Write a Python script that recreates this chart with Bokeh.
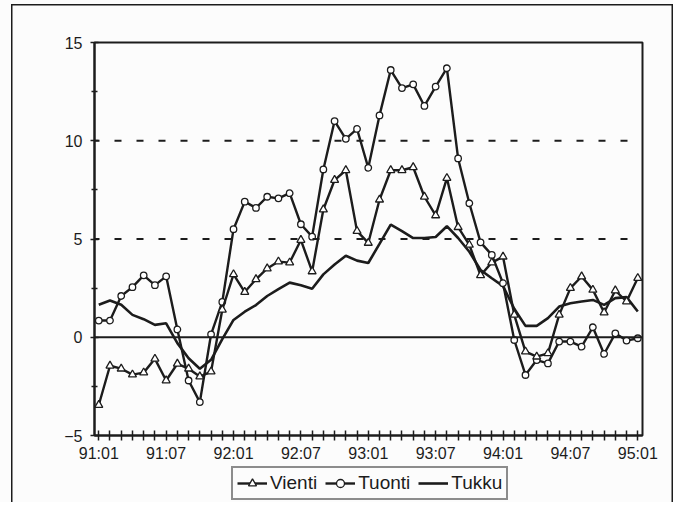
from bokeh.plotting import figure
from bokeh.layouts import column
from bokeh.models import FixedTicker, Span, Legend, LegendItem, Range1d
from bokeh.embed import file_html
from bokeh.resources import INLINE

# monthly index 0 = 91:01 ... 48 = 95:01
months = list(range(49))

vienti = [-3.45, -1.45, -1.6, -1.9, -1.8, -1.1, -2.2, -1.35, -1.6, -2.0,
          -1.75, 1.4, 3.2, 2.3, 2.95, 3.5, 3.85, 3.8, 4.95, 3.35,
          6.5, 8.0, 8.5, 5.4, 4.8, 7.0, 8.5, 8.5, 8.65, 7.15,
          6.2, 8.1, 5.6, 4.7, 3.15, 3.8, 4.1, 1.14, -0.73, -0.99,
          -0.82, 1.14, 2.5, 3.09, 2.41, 1.26, 2.38, 1.82, 3.01]

tuonti = [0.85, 0.85, 2.1, 2.55, 3.15, 2.65, 3.1, 0.4, -2.2, -3.3,
          0.15, 1.8, 5.5, 6.9, 6.58, 7.15, 7.07, 7.33, 5.75, 5.12,
          8.54, 11.0, 10.1, 10.6, 8.62, 11.29, 13.6, 12.68, 12.87, 11.77,
          12.75, 13.69, 9.1, 6.82, 4.83, 4.19, 2.75, -0.14, -1.92, -1.16,
          -1.33, -0.22, -0.22, -0.48, 0.51, -0.85, 0.2, -0.17, -0.05]

tukku = [1.65, 1.87, 1.65, 1.14, 0.92, 0.63, 0.71, -0.3, -1.07, -1.6,
         -1.15, -0.1, 0.88, 1.3, 1.64, 2.1, 2.45, 2.78, 2.65, 2.47,
         3.2, 3.7, 4.15, 3.9, 3.78, 4.75, 5.73, 5.4, 5.05, 5.05,
         5.1, 5.65, 5.05, 4.35, 3.42, 3.0, 2.6, 1.45, 0.58, 0.58,
         0.97, 1.56, 1.73, 1.82, 1.9, 1.65, 1.99, 2.04, 1.31]

series_names = ["Vienti", "Tuonti", "Tukku"]

tick_months = [0, 6, 12, 18, 24, 30, 36, 42, 48]
tick_labels = ["91:01", "91:07", "92:01", "92:07", "93:01",
               "93:07", "94:01", "94:07", "95:01"]

y_major = [-5, 0, 5, 10, 15]
y_minor = [-2.5, 2.5, 7.5, 12.5]

INK = "#1c1c1c"
BG = "#fcfcfc"
FONT = "Liberation Sans"


def add_series(fig, xs, vi, tu, tk):
    """Draw the three series on fig; returns renderers per series."""
    r_tk = fig.line(xs, tk, line_color=INK, line_width=2.6)
    r_tu = fig.line(xs, tu, line_color=INK, line_width=2.4)
    r_tu_m = fig.scatter(xs, tu, marker="circle", size=6.5,
                         fill_color="white", line_color=INK, line_width=1.3)
    r_vi = fig.line(xs, vi, line_color=INK, line_width=2.4)
    r_vi_m = fig.scatter(xs, vi, marker="triangle", size=8,
                         fill_color="white", line_color=INK, line_width=1.3)
    return [[r_vi, r_vi_m], [r_tu, r_tu_m], [r_tk]]


# ---------------- main chart ----------------
p = figure(width=673, height=465, title=None,
           x_range=Range1d(-0.38, 48.42), y_range=Range1d(-5, 15),
           output_backend="svg", toolbar_location=None,
           min_border_left=94, min_border_right=31,
           min_border_top=42, min_border_bottom=30)
p.background_fill_color = BG
p.border_fill_alpha = 0
p.outline_line_color = INK
p.outline_line_width = 2
p.xgrid.visible = False
p.ygrid.visible = False

for loc in (5, 10):
    p.add_layout(Span(location=loc, dimension="width", line_color=INK,
                      line_width=2, line_dash="7 15", line_dash_offset=2))
p.add_layout(Span(location=0, dimension="width", line_color=INK, line_width=2))

add_series(p, months, vienti, tuonti, tukku)

xa = p.xaxis[0]
xa.ticker = FixedTicker(ticks=months)
overrides = {m: "" for m in months}
for m, lab in zip(tick_months, tick_labels):
    overrides[m] = lab
xa.major_label_overrides = overrides
xa.axis_line_color = INK
xa.axis_line_width = 2
xa.major_tick_line_color = INK
xa.major_tick_line_width = 1.5
xa.major_tick_in = 5
xa.major_tick_out = 5
xa.minor_tick_line_color = None
xa.major_label_standoff = 4
xa.major_label_text_font = FONT
xa.major_label_text_font_size = "16px"
xa.major_label_text_color = INK

ya = p.yaxis[0]
ya.ticker = FixedTicker(ticks=y_major, minor_ticks=y_minor)
ya.axis_line_color = INK
ya.axis_line_width = 2
ya.major_tick_line_color = INK
ya.major_tick_line_width = 1.5
ya.major_tick_in = 4
ya.major_tick_out = 4
ya.minor_tick_line_color = INK
ya.minor_tick_line_width = 1.5
ya.minor_tick_in = 3
ya.minor_tick_out = 3
ya.major_label_standoff = 8
ya.major_label_text_font = FONT
ya.major_label_text_font_size = "16px"
ya.major_label_text_color = INK

# ---------------- legend strip (its frame is aligned with the chart's) ----------------
lg = figure(width=673, height=37, title=None,
            x_range=Range1d(0, 1), y_range=Range1d(0, 1),
            output_backend="svg", toolbar_location=None,
            min_border_left=94, min_border_right=31,
            min_border_top=0, min_border_bottom=0)
lg.axis.visible = False
lg.xgrid.visible = False
lg.ygrid.visible = False
lg.outline_line_color = None
lg.background_fill_alpha = 0
lg.border_fill_alpha = 0
# legend-key renderers: points lie outside the strip's ranges, only keys show
off = [-5, -4]
leg_renderers = add_series(lg, off, off, off, off)

legend = Legend(items=[LegendItem(label=n, renderers=r)
                       for n, r in zip(series_names, leg_renderers)],
                orientation="horizontal", location=(137, 2),
                border_line_color=INK, border_line_width=2,
                background_fill_color=BG, background_fill_alpha=1,
                label_text_font=FONT, label_text_font_size="19px",
                label_text_color=INK, glyph_width=30, glyph_height=20,
                label_height=20, label_standoff=3, spacing=8, padding=4,
                margin=0)
lg.add_layout(legend)

layout = column(p, lg, spacing=0)
# outer frame: inset shadows on the host, canvases have transparent borders
layout.styles = {
    "background-color": BG,
    "box-shadow": (f"inset 11px 0 0 0 {BG}, inset 0 4px 0 0 {BG}, "
                   f"inset 12.5px 0 0 0 {INK}, inset 0 5.5px 0 0 {INK}, "
                   f"inset -1.5px 0 0 0 {INK}"),
}

open("out.html", "w").write(file_html(layout, INLINE))
